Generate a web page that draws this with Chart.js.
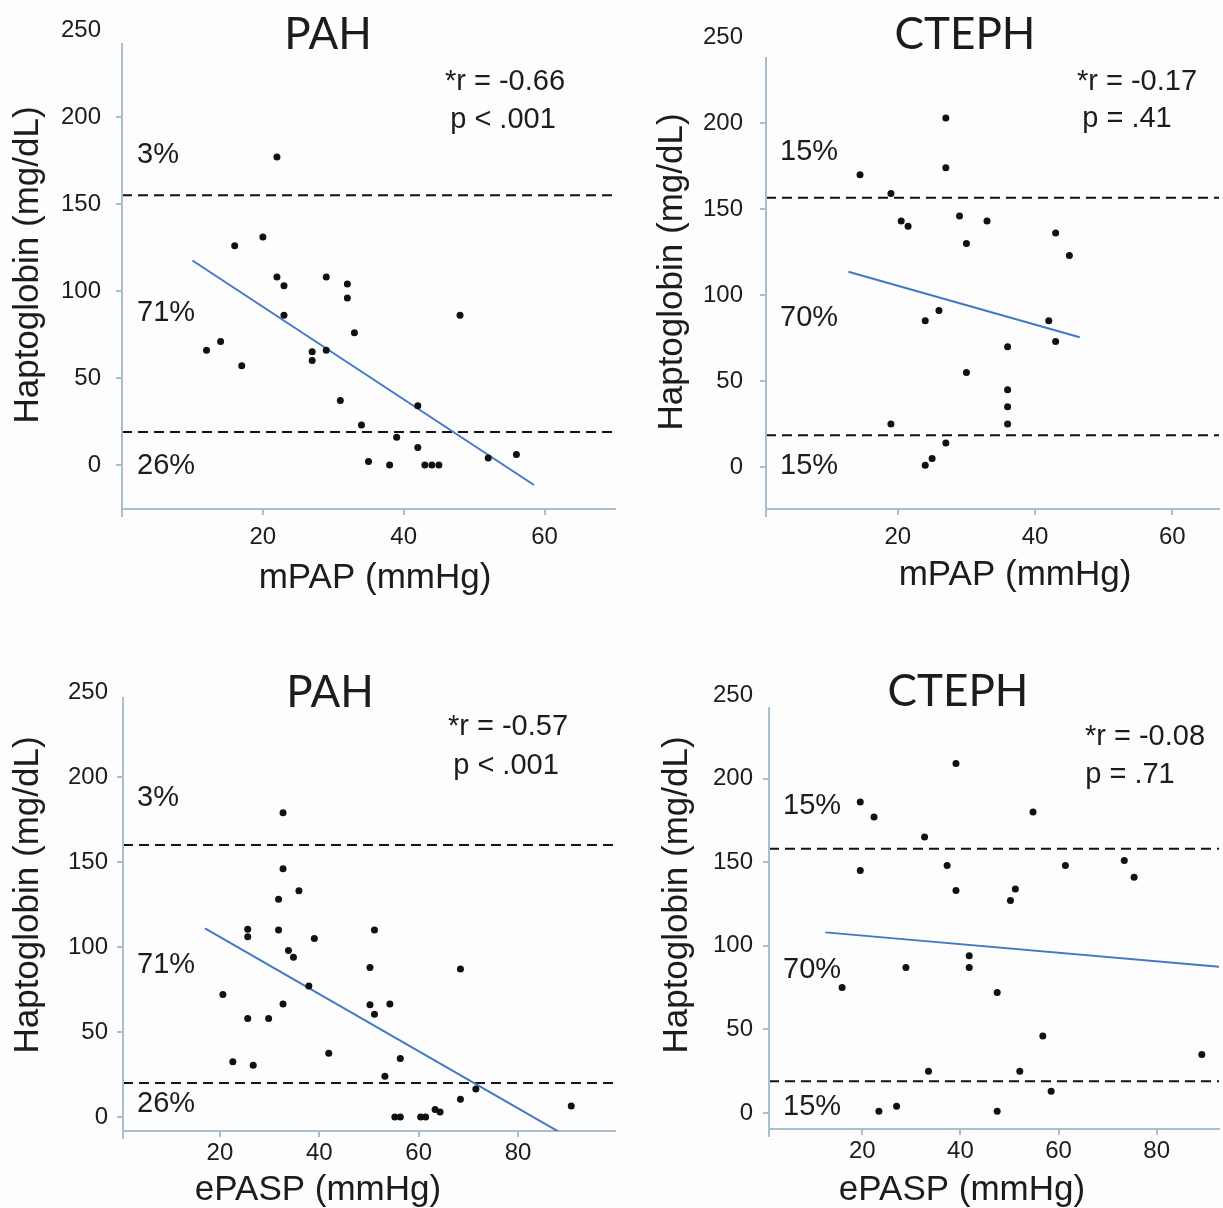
<!DOCTYPE html>
<html>
<head>
<meta charset="utf-8">
<script src="https://cdn.jsdelivr.net/npm/chart.js@4.4.1/dist/chart.umd.min.js"></script>
<style>
  html, body { margin: 0; padding: 0; background: #fdfdfe; }
  #wrap { position: relative; width: 1223px; height: 1208px; overflow: hidden; }
  canvas { position: absolute; }
</style>
</head>
<body>
<div id="wrap">
  <canvas id="c1" width="640" height="630" style="left:0;top:0"></canvas>
  <canvas id="c2" width="583" height="630" style="left:640px;top:0"></canvas>
  <canvas id="c3" width="640" height="578" style="left:0;top:630px"></canvas>
  <canvas id="c4" width="583" height="578" style="left:640px;top:630px"></canvas>
</div>
<script>
// tick labels
const yTicks = [0, 50, 100, 150, 200, 250];
const mpapTicks = [20, 40, 60];
const epaspTicks = [20, 40, 60, 80];

// panel texts
const titles = ['PAH', 'CTEPH', 'PAH', 'CTEPH'];
const rTexts = ['*r = -0.66', '*r = -0.17', '*r = -0.57', '*r = -0.08'];
const pTexts = ['p < .001', 'p = .41', 'p < .001', 'p = .71'];
const pctLabels = [['3%', '71%', '26%'], ['15%', '70%', '15%'], ['3%', '71%', '26%'], ['15%', '70%', '15%']];
const xTitles = ['mPAP (mmHg)', 'mPAP (mmHg)', 'ePASP (mmHg)', 'ePASP (mmHg)'];
const yTitle = 'Haptoglobin (mg/dL)';

// cut-off lines (upper / lower), per panel
const upperCut = [155, 156.5, 160, 158];
const lowerCut = [19, 18.5, 20, 19];

// PAH vs mPAP
const pahMpapX = [22, 16, 20, 22, 23, 23, 29, 32, 32, 33, 27, 27, 29, 12, 14, 17, 31, 34, 35, 38, 39, 42, 42, 43, 44, 45, 48, 52, 56];
const pahMpapY = [177, 126, 131, 108, 103, 86, 108, 104, 96, 76, 65, 60, 66, 66, 71, 57, 37, 23, 2, 0, 16, 34, 10, 0, 0, 0, 86, 4, 6];
const pahMpapFitX = [10, 58.5];
const pahMpapFitY = [117.5, -11.5];

// CTEPH vs mPAP
const ctephMpapX = [14.5, 19, 27, 27, 20.5, 21.5, 29, 33, 30, 43, 45, 26, 24, 42, 43, 36, 30, 36, 36, 36, 19, 27, 25, 24];
const ctephMpapY = [170, 159, 203, 174, 143, 140, 146, 143, 130, 136, 123, 91, 85, 85, 73, 70, 55, 45, 35, 25, 25, 14, 5, 1];
const ctephMpapFitX = [12.8, 46.5];
const ctephMpapFitY = [113.5, 75.5];

// PAH vs ePASP
const pahEpaspX = [32.7, 32.7, 31.8, 35.9, 25.6, 25.6, 31.8, 39, 33.8, 34.8, 37.9, 32.7, 20.6, 25.6, 29.8, 22.6, 26.7, 41.9, 51.1, 50.2, 50.2, 51.1, 54.2, 56.3, 53.2, 68.4, 71.5, 68.4, 63.3, 64.3, 55.2, 56.3, 60.4, 61.4, 90.7];
const pahEpaspY = [179, 146, 128, 133, 110.5, 106, 110, 105, 98, 94, 77, 66.5, 72, 58, 58, 32.5, 30.5, 37.5, 110, 88, 66, 60.5, 66.5, 34.5, 24, 87, 16.5, 10.5, 4.5, 3, 0, 0, 0, 0, 6.5];
const pahEpaspFitX = [17, 89];
const pahEpaspFitY = [111, -10];

// CTEPH vs ePASP
const ctephEpaspX = [39.1, 19.6, 22.4, 54.8, 32.7, 19.6, 37.3, 39.1, 51.2, 50.2, 61.4, 73.4, 75.4, 41.8, 41.8, 28.9, 15.9, 47.5, 56.8, 89.2, 33.5, 52.1, 58.5, 23.4, 27, 47.5];
const ctephEpaspY = [209, 186, 177, 180, 165, 145, 148, 133, 134, 127, 148, 151, 141, 94, 87, 87, 75, 72, 46, 35, 25, 25, 13, 1, 4, 1];
const ctephEpaspFitX = [12.5, 92.7];
const ctephEpaspFitY = [108, 87.5];

const axisColor = '#a9bfcc';
const ink = '#1c1c1c';
const sans = '"Liberation Sans", Arial, sans-serif';

const toPts = (xs, ys) => xs.map((x, i) => ({ x: x, y: ys[i] }));

// layout per panel, in page pixels
const panels = [
  { id: 'c1', ox: 0, oy: 0, w: 640, h: 630, L: 122, R: 615, T: 43, B: 509, xMin: 0, xMax: 70, yMin: -25.3, yMax: 242.5,
    yPad: 15, xPad: 8, xt: mpapTicks, xs: pahMpapX, ys: pahMpapY, fx: pahMpapFitX, fy: pahMpapFitY,
    title: [328, 35], r: [505, 82], p: [503, 120], pctX: 137, pctY: [155, 313, 466], yT: [28, 265], xT: [375, 578] },
  { id: 'c2', ox: 640, oy: 0, w: 583, h: 630, L: 766, R: 1223, T: 57, B: 509, xMin: 0.8, xMax: 66.8, yMin: -24.4, yMax: 238.4,
    yPad: 17, xPad: 8, xt: mpapTicks, xs: ctephMpapX, ys: ctephMpapY, fx: ctephMpapFitX, fy: ctephMpapFitY,
    title: [965, 35], r: [1137, 82], p: [1127, 119], pctX: 780, pctY: [152, 318, 466], yT: [672, 272], xT: [1015, 575] },
  { id: 'c3', ox: 0, oy: 630, w: 640, h: 578, L: 123, R: 615, T: 697, B: 1131, xMin: 0.5, xMax: 99.5, yMin: -8.2, yMax: 247,
    yPad: 9, xPad: 2, xt: epaspTicks, xs: pahEpaspX, ys: pahEpaspY, fx: pahEpaspFitX, fy: pahEpaspFitY,
    title: [330, 693], r: [508, 727], p: [506, 766], pctX: 137, pctY: [798, 965, 1104], yT: [28, 895], xT: [318, 1190] },
  { id: 'c4', ox: 640, oy: 630, w: 583, h: 578, L: 769, R: 1223, T: 707, B: 1129, xMin: 1, xMax: 92.7, yMin: -9.6, yMax: 242.8,
    yPad: 10, xPad: 2, xt: epaspTicks, xs: ctephEpaspX, ys: ctephEpaspY, fx: ctephEpaspFitX, fy: ctephEpaspFitY,
    title: [958, 692], r: [1145, 737], p: [1130, 775], pctX: 783, pctY: [806, 970, 1107], yT: [677, 895], xT: [962, 1190] }
];

const Y_W = 75, X_H = 40;

panels.forEach((pn, k) => {
  const textPlugin = {
    id: 'panelText' + k,
    afterDraw(chart) {
      const ctx = chart.ctx;
      const area = chart.chartArea;
      ctx.save();
      // y axis line (stops short of the top tick, like the original)
      ctx.strokeStyle = axisColor;
      ctx.lineWidth = 2;
      ctx.beginPath();
      ctx.moveTo(area.left, area.bottom + 8);
      ctx.lineTo(area.left, area.top);
      ctx.stroke();

      ctx.fillStyle = ink;
      ctx.textBaseline = 'middle';
      // title
      ctx.font = '44px Lato, "Open Sans", sans-serif';
      ctx.textAlign = 'center';
      ctx.fillText(titles[k], pn.title[0] - pn.ox, pn.title[1] - pn.oy);
      // correlation text
      ctx.font = '29px ' + sans;
      ctx.fillText(rTexts[k], pn.r[0] - pn.ox, pn.r[1] - pn.oy);
      ctx.fillText(pTexts[k], pn.p[0] - pn.ox, pn.p[1] - pn.oy);
      // percentages
      ctx.textAlign = 'left';
      pctLabels[k].forEach((t, i) => ctx.fillText(t, pn.pctX - pn.ox, pn.pctY[i] - pn.oy));
      // axis titles
      ctx.font = '35px ' + sans;
      ctx.textAlign = 'center';
      ctx.fillText(xTitles[k], pn.xT[0] - pn.ox, pn.xT[1] - pn.oy);
      ctx.translate(pn.yT[0] - pn.ox, pn.yT[1] - pn.oy);
      ctx.rotate(-Math.PI / 2);
      ctx.fillText(yTitle, 0, 0);
      ctx.restore();
    }
  };

  const lineDs = (data, color, dash) => ({
    type: 'line', data: data, borderColor: color, borderWidth: 2, borderDash: dash,
    pointRadius: 0, fill: false, showLine: true, tension: 0
  });

  new Chart(document.getElementById(pn.id), {
    type: 'scatter',
    data: {
      datasets: [
        { data: toPts(pn.xs, pn.ys), pointRadius: 3.5, backgroundColor: '#111', borderWidth: 0 },
        lineDs(toPts(pn.fx, pn.fy), '#4279c4', []),
        lineDs([{ x: pn.xMin, y: upperCut[k] }, { x: pn.xMax, y: upperCut[k] }], '#111', [10, 6]),
        lineDs([{ x: pn.xMin, y: lowerCut[k] }, { x: pn.xMax, y: lowerCut[k] }], '#111', [10, 6])
      ]
    },
    options: {
      responsive: false,
      animation: false,
      events: [],
      layout: {
        padding: {
          left: pn.L - pn.ox - Y_W,
          top: pn.T - pn.oy,
          right: pn.ox + pn.w - pn.R,
          bottom: pn.oy + pn.h - pn.B - X_H
        }
      },
      plugins: { legend: { display: false }, tooltip: { enabled: false } },
      scales: {
        x: {
          type: 'linear', min: pn.xMin, max: pn.xMax,
          afterBuildTicks: s => { s.ticks = pn.xt.map(v => ({ value: v })); },
          afterFit: s => { s.height = X_H; },
          grid: { drawOnChartArea: false, drawTicks: true, tickLength: 6, color: axisColor, lineWidth: 2 },
          border: { display: true, color: axisColor, width: 2 },
          ticks: { font: { family: sans, size: 24 }, color: ink, padding: pn.xPad, maxRotation: 0, autoSkip: false }
        },
        y: {
          type: 'linear', min: pn.yMin, max: pn.yMax,
          afterBuildTicks: s => { s.ticks = yTicks.map(v => ({ value: v })); },
          afterFit: s => { s.width = Y_W; },
          grid: { drawOnChartArea: false, drawTicks: true, tickLength: 6, lineWidth: 2,
                  color: c => (c.tick && c.tick.value > pn.yMax) ? 'rgba(0,0,0,0)' : axisColor },
          border: { display: false },
          ticks: { font: { family: sans, size: 24 }, color: ink, padding: pn.yPad, autoSkip: false }
        }
      }
    },
    plugins: [textPlugin]
  });
});
</script>
</body>
</html>
